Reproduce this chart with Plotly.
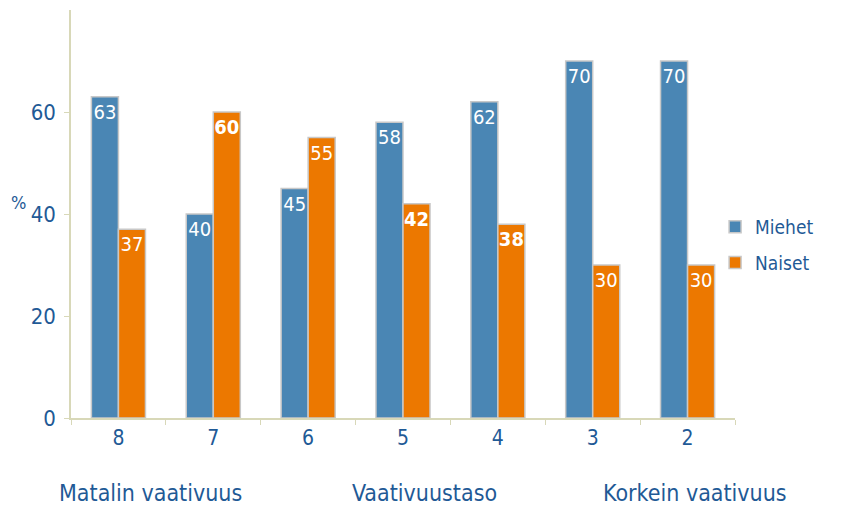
import plotly.graph_objects as go

categories = ["8", "7", "6", "5", "4", "3", "2"]
miehet = [63, 40, 45, 58, 62, 70, 70]
naiset = [37, 60, 55, 42, 38, 30, 30]
y_ticks = [0, 20, 40, 60]
bottom_labels = ["Matalin vaativuus", "Vaativuustaso", "Korkein vaativuus"]
naiset_bold = [False, True, False, True, True, False, False]

FONT = "DejaVu Sans Condensed, Liberation Sans Narrow, Open Sans, sans-serif"
TXT = "#1f5a96"
AXIS = "#d8d8b8"

fig = go.Figure()
fig.add_trace(go.Bar(
    name="Miehet", x=categories, y=miehet, text=[str(v) for v in miehet],
    textposition="inside", insidetextanchor="end", textangle=0, constraintext="none",
    legendgroup="m",
    textfont=dict(color="white", size=20, family=FONT),
    marker=dict(color="#4a86b4", line=dict(color="#c8c8c8", width=1.5)),
))
fig.add_trace(go.Bar(
    name="Naiset", x=categories, y=naiset,
    text=[f"<b>{v}</b>" if b else str(v) for v, b in zip(naiset, naiset_bold)],
    textposition="inside", insidetextanchor="end", textangle=0, constraintext="none",
    legendgroup="n",
    textfont=dict(color="white", size=20, family=FONT),
    marker=dict(color="#ec7800", line=dict(color="#c8c8c8", width=1.5)),
))

fig.update_layout(
    width=843, height=504,
    margin=dict(l=63, r=116, t=2, b=94),
    paper_bgcolor="white", plot_bgcolor="white",
    barmode="group", bargap=0.43, bargroupgap=0,
    font=dict(family=FONT, color=TXT),
    showlegend=True,
    legend=dict(x=0.97, y=0.424, xanchor="left", yanchor="middle",
                font=dict(size=19, color=TXT, family=FONT),
                itemwidth=30, tracegroupgap=8, traceorder="grouped",
                bgcolor="rgba(0,0,0,0)"),
)
fig.update_xaxes(
    type="category", showline=True, linecolor=AXIS, linewidth=1.5,
    ticks="outside", tickson="boundaries", ticklen=5, tickcolor=AXIS,
    tickfont=dict(size=21, color=TXT, family=FONT), showgrid=False,
)
fig.update_yaxes(
    range=[0, 80], tickvals=y_ticks, showline=True, linecolor=AXIS, linewidth=1.5,
    ticks="outside", ticklen=5, tickcolor=AXIS, showgrid=False, zeroline=False,
    tickfont=dict(size=22, color=TXT, family=FONT), ticklabelstandoff=4,
)

fig.add_annotation(text="%", xref="paper", yref="paper", x=-0.093, y=0.527,
                   showarrow=False, font=dict(size=18, color=TXT, family=FONT),
                   xanchor="left", yanchor="middle")
for lbl, xc in zip(bottom_labels, [0.119, 0.533, 0.94]):
    fig.add_annotation(text=lbl, xref="paper", yref="paper", x=xc, y=-0.184,
                       showarrow=False, font=dict(size=23, color=TXT, family=FONT),
                       xanchor="center", yanchor="middle")

fig.write_html("out.html")
